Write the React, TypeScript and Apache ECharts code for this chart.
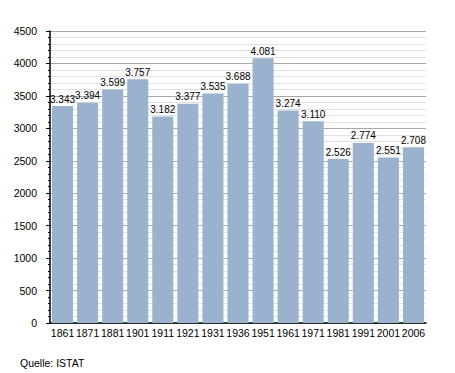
import React, { useEffect, useRef } from "react";
import * as echarts from "echarts";

const categories = ["1861", "1871", "1881", "1901", "1911", "1921", "1931", "1936", "1951", "1961", "1971", "1981", "1991", "2001", "2006"];
const values = [3343, 3394, 3599, 3757, 3182, 3377, 3535, 3688, 4081, 3274, 3110, 2526, 2774, 2551, 2708];
const yTicks = { min: 0, max: 4500, interval: 500 };
const source = "Quelle: ISTAT";

const fmt = (v: number) => {
  const s = String(v);
  return s.length > 3 ? s.slice(0, s.length - 3) + "." + s.slice(-3) : s;
};

export default function App() {
  const ref = useRef<HTMLDivElement>(null);
  useEffect(() => {
    const chart = echarts.init(ref.current!, null, { renderer: "svg" });
    const font = "'Liberation Sans', Arial, sans-serif";
    chart.setOption({
      animation: false,
      textStyle: { fontFamily: font },
      grid: { left: 50, right: 29, top: 31, bottom: 50 },
      graphic: [
        { type: "text", left: 20, top: 357, style: { text: source, fontSize: 10.5, fontFamily: font, fill: "#000" } },
      ],
      xAxis: {
        type: "category",
        data: categories,
        axisLine: { lineStyle: { color: "#000", width: 1.5 } },
        axisTick: { show: false },
        axisLabel: { color: "#000", fontSize: 10.5, margin: 4, interval: 0, fontFamily: font },
      },
      yAxis: {
        type: "value",
        min: yTicks.min,
        max: yTicks.max,
        interval: yTicks.interval,
        axisLine: { show: true, lineStyle: { color: "#000", width: 1.5 } },
        axisTick: { show: true, length: 4, lineStyle: { color: "#000" } },
        minorTick: { show: true, splitNumber: 5, length: 2, lineStyle: { color: "#000" } },
        axisLabel: { color: "#000", fontSize: 10.5, margin: 13, fontFamily: font, formatter: (v: number) => String(v) },
        splitLine: { lineStyle: { color: "#a8a8a8", width: 1 } },
        minorSplitLine: { show: true, lineStyle: { color: "#e2e2e2", width: 1 } },
      },
      series: [
        {
          type: "bar",
          data: values,
          barCategoryGap: "16%",
          itemStyle: { color: "#9ab2ce" },
          label: {
            show: true,
            position: "top",
            distance: 2,
            color: "#000",
            fontSize: 10,
            fontFamily: font,
            formatter: (p: any) => fmt(p.value),
          },
        },
      ],
    });
    return () => chart.dispose();
  }, []);
  return <div ref={ref} style={{ width: 455, height: 373, position: "absolute", left: 0, top: 0, background: "#fff" }} />;
}
